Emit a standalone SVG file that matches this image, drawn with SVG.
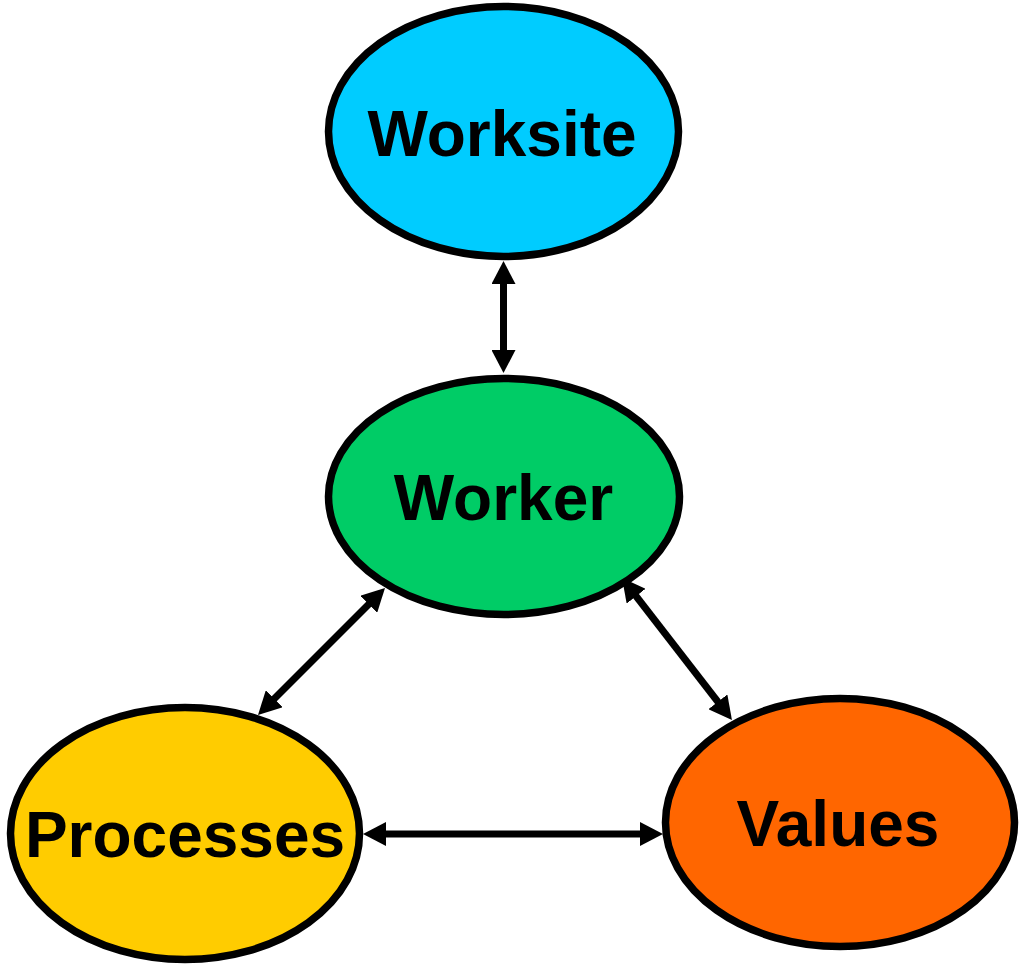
<svg xmlns="http://www.w3.org/2000/svg" width="1022" height="966" viewBox="0 0 1022 966">
  <style>
    .node ellipse { stroke: #000; stroke-width: 7.5; }
    .node text { font-family: "Liberation Sans", Arial, sans-serif; font-weight: bold; font-size: 64px; fill: #000; text-anchor: middle; }
    .link { stroke: #000; stroke-width: 7; fill: none; marker-start: url(#head); marker-end: url(#head); }
  </style>
  <defs>
    <!-- arrowhead 23 long, 24 wide; the tip sits 12px beyond each line end -->
    <marker id="head" markerUnits="userSpaceOnUse" markerWidth="23" markerHeight="24" viewBox="0 0 23 24" refX="11" refY="12" orient="auto-start-reverse">
      <path d="M0,0 L23,12 L0,24 Z" fill="#000"/>
    </marker>
  </defs>
  <rect width="1022" height="966" fill="#fff"/>

  <g id="connectors">
    <line class="link" x1="503.5" y1="273" x2="503.5" y2="361"/>
    <line class="link" x1="376.5" y1="596.5" x2="266.5" y2="706.5"/>
    <line class="link" x1="629.4" y1="587.5" x2="724.6" y2="710.5"/>
    <line class="link" x1="375" y1="834" x2="651" y2="834"/>
  </g>

  <g id="worksite" class="node">
    <ellipse cx="503.5" cy="131.5" rx="175" ry="125" fill="#00CCFF"/>
    <text x="502" y="156">Worksite</text>
  </g>

  <g id="worker" class="node">
    <ellipse cx="504" cy="496.5" rx="175.5" ry="118" fill="#00CC66"/>
    <text x="503.5" y="520">Worker</text>
  </g>

  <g id="processes" class="node">
    <ellipse cx="185" cy="833.5" rx="174.5" ry="126" fill="#FFCC00"/>
    <text x="185" y="857">Processes</text>
  </g>

  <g id="values" class="node">
    <ellipse cx="840" cy="822.5" rx="174.5" ry="124" fill="#FF6600"/>
    <text x="838" y="846">Values</text>
  </g>
</svg>
